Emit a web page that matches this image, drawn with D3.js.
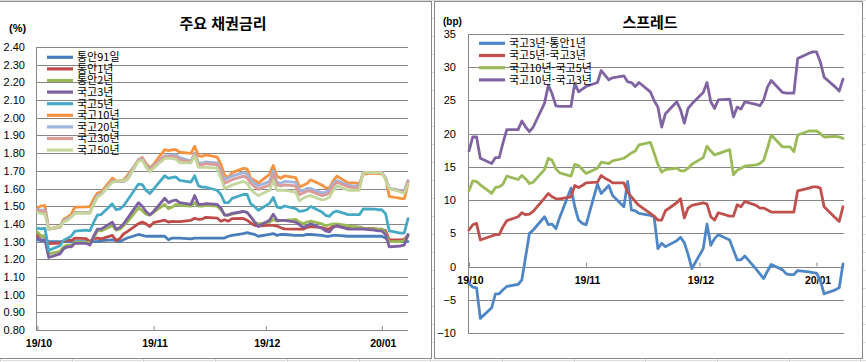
<!DOCTYPE html>
<html lang="ko">
<head>
<meta charset="UTF-8">
<title>주요 채권금리 / 스프레드</title>
<script src="https://d3js.org/d3.v7.min.js"></script>
<style>
  body { margin: 0; background: #fff; }
  svg { display: block; }
  text { font-family: "Liberation Sans", Arial, sans-serif; fill: #000; }
  .kr { font-family: "Noto Sans CJK KR", sans-serif; }
</style>
</head>
<body>
<svg id="chart" width="866" height="362"></svg>
<script>
// business days, 2019-10-01 .. 2020-01-08
var dates = [
  "2019-10-01","2019-10-02","2019-10-03","2019-10-04","2019-10-07","2019-10-08","2019-10-09","2019-10-10","2019-10-11",
  "2019-10-14","2019-10-15","2019-10-16","2019-10-17","2019-10-18","2019-10-21","2019-10-22","2019-10-23","2019-10-24",
  "2019-10-25","2019-10-28","2019-10-29","2019-10-30","2019-10-31",
  "2019-11-01","2019-11-04","2019-11-05","2019-11-06","2019-11-07","2019-11-08","2019-11-11","2019-11-12","2019-11-13",
  "2019-11-14","2019-11-15","2019-11-18","2019-11-19","2019-11-20","2019-11-21","2019-11-22","2019-11-25","2019-11-26",
  "2019-11-27","2019-11-28","2019-11-29",
  "2019-12-02","2019-12-03","2019-12-04","2019-12-05","2019-12-06","2019-12-09","2019-12-10","2019-12-11","2019-12-12",
  "2019-12-13","2019-12-16","2019-12-17","2019-12-18","2019-12-19","2019-12-20","2019-12-23","2019-12-24","2019-12-25",
  "2019-12-26","2019-12-27","2019-12-30","2019-12-31",
  "2020-01-01","2020-01-02","2020-01-03","2020-01-06","2020-01-07","2020-01-08"
];

// 주요 채권금리 (%)
var msb91 = [1.31,1.305,1.305,1.30,1.30,1.30,1.30,1.30,1.30,1.30,1.30,1.30,1.30,1.305,1.31,1.305,1.30,1.31,1.32,1.34,1.335,1.33,1.33,
  1.33,1.33,1.31,1.32,1.32,1.32,1.315,1.32,1.32,1.32,1.32,1.32,1.32,1.32,1.33,1.335,1.345,1.35,1.345,1.34,1.33,
  1.34,1.345,1.335,1.34,1.34,1.335,1.335,1.335,1.34,1.34,1.335,1.33,1.33,1.335,1.335,1.33,1.33,1.33,1.33,1.33,1.33,1.33,
  1.33,1.32,1.30,1.30,1.30,1.30];
var msb1 = [1.335,1.33,1.33,1.288,1.292,1.301,1.311,1.305,1.320,1.317,1.300,1.315,1.320,1.315,1.335,1.307,1.316,1.343,1.356,1.402,1.410,1.400,1.385,
  1.407,1.421,1.410,1.414,1.413,1.413,1.420,1.432,1.425,1.427,1.437,1.433,1.415,1.423,1.415,1.430,1.431,1.421,1.404,1.392,1.388,
  1.393,1.391,1.388,1.378,1.372,1.370,1.370,1.370,1.380,1.384,1.379,1.371,1.373,1.387,1.387,1.375,1.381,1.382,1.382,1.376,1.373,1.369,
  1.370,1.361,1.311,1.310,1.312,1.336];
var msb2 = [1.355,1.33,1.33,1.23,1.245,1.27,1.28,1.28,1.295,1.295,1.295,1.32,1.36,1.36,1.39,1.365,1.37,1.39,1.41,1.49,1.475,1.455,1.45,
  1.465,1.51,1.485,1.495,1.51,1.505,1.50,1.52,1.50,1.50,1.505,1.50,1.48,1.45,1.45,1.455,1.47,1.465,1.44,1.41,1.40,
  1.41,1.425,1.415,1.42,1.42,1.425,1.41,1.40,1.41,1.415,1.40,1.39,1.395,1.40,1.40,1.39,1.385,1.385,1.38,1.375,1.37,1.37,
  1.37,1.35,1.30,1.30,1.305,1.33];
var ktb3 = [1.32,1.31,1.31,1.21,1.23,1.26,1.27,1.27,1.29,1.29,1.28,1.33,1.37,1.37,1.41,1.37,1.38,1.40,1.43,1.52,1.50,1.47,1.45,
  1.47,1.545,1.52,1.53,1.535,1.52,1.51,1.56,1.51,1.51,1.515,1.51,1.49,1.45,1.45,1.46,1.47,1.465,1.44,1.41,1.385,
  1.42,1.455,1.42,1.42,1.42,1.41,1.395,1.38,1.39,1.40,1.375,1.36,1.355,1.38,1.39,1.37,1.37,1.37,1.37,1.37,1.365,1.36,
  1.36,1.34,1.27,1.275,1.28,1.34];
var ktb5 = [1.375,1.373,1.375,1.250,1.276,1.308,1.318,1.330,1.359,1.365,1.361,1.408,1.449,1.453,1.513,1.480,1.485,1.502,1.532,1.625,1.622,1.589,1.572,
  1.596,1.672,1.657,1.663,1.665,1.646,1.636,1.672,1.615,1.608,1.607,1.590,1.566,1.520,1.520,1.544,1.566,1.567,1.513,1.498,1.477,
  1.516,1.549,1.495,1.490,1.501,1.486,1.471,1.473,1.480,1.498,1.467,1.448,1.443,1.465,1.472,1.452,1.452,1.452,1.452,1.484,1.483,1.480,
  1.480,1.458,1.360,1.348,1.348,1.430];
var ktb10 = [1.489,1.502,1.503,1.373,1.386,1.427,1.438,1.454,1.495,1.496,1.498,1.540,1.574,1.580,1.659,1.643,1.645,1.649,1.673,1.761,1.776,1.741,1.718,
  1.736,1.820,1.814,1.819,1.820,1.805,1.799,1.839,1.786,1.782,1.790,1.777,1.737,1.674,1.662,1.690,1.714,1.711,1.657,1.646,1.631,
  1.680,1.730,1.669,1.658,1.671,1.662,1.609,1.618,1.628,1.649,1.620,1.603,1.603,1.643,1.670,1.632,1.632,1.632,1.625,1.682,1.687,1.684,
  1.684,1.658,1.555,1.544,1.543,1.623];
var ktb20 = [1.48,1.478,1.478,1.37,1.38,1.42,1.43,1.44,1.465,1.465,1.465,1.52,1.56,1.57,1.645,1.64,1.64,1.64,1.66,1.765,1.77,1.735,1.71,
  1.73,1.785,1.785,1.79,1.79,1.775,1.755,1.80,1.745,1.745,1.75,1.745,1.70,1.65,1.66,1.67,1.69,1.68,1.65,1.63,1.615,
  1.64,1.70,1.635,1.63,1.64,1.635,1.585,1.59,1.60,1.60,1.575,1.58,1.59,1.63,1.645,1.62,1.615,1.615,1.615,1.69,1.69,1.69,
  1.69,1.66,1.60,1.59,1.585,1.645];
var ktb30 = [1.475,1.47,1.47,1.37,1.38,1.415,1.425,1.44,1.462,1.462,1.462,1.515,1.555,1.567,1.642,1.64,1.642,1.642,1.65,1.762,1.767,1.73,1.705,
  1.725,1.78,1.78,1.782,1.78,1.762,1.75,1.795,1.735,1.735,1.74,1.735,1.685,1.63,1.64,1.65,1.67,1.66,1.63,1.61,1.595,
  1.62,1.68,1.62,1.615,1.62,1.615,1.565,1.575,1.585,1.585,1.56,1.565,1.575,1.615,1.635,1.61,1.605,1.605,1.605,1.69,1.69,1.69,
  1.69,1.655,1.60,1.585,1.58,1.64];
var ktb50 = [1.465,1.458,1.455,1.37,1.385,1.41,1.42,1.44,1.46,1.46,1.46,1.51,1.55,1.565,1.635,1.64,1.645,1.645,1.65,1.755,1.76,1.72,1.695,
  1.715,1.77,1.77,1.77,1.765,1.745,1.745,1.785,1.72,1.72,1.72,1.715,1.66,1.60,1.61,1.62,1.64,1.63,1.595,1.575,1.56,
  1.59,1.645,1.59,1.59,1.59,1.58,1.53,1.545,1.555,1.56,1.535,1.54,1.55,1.59,1.615,1.59,1.59,1.59,1.59,1.69,1.69,1.69,
  1.69,1.65,1.60,1.58,1.575,1.625];

// 스프레드 (bp)
var sp3y1y = [-2.6,-3.1,-3.2,-7.8,-6.2,-4.1,-4.1,-3.5,-3.0,-2.7,-2.0,1.5,5.0,5.5,7.5,6.3,6.4,5.7,7.4,11.8,9.0,7.0,6.5,
  6.3,12.4,11.0,11.6,12.2,10.7,9.0,12.8,8.5,8.4,8.0,7.7,7.5,2.7,3.5,3.0,3.9,4.4,3.6,1.8,-0.3,
  2.7,6.4,3.2,4.2,4.8,4.0,2.5,1.0,1.0,1.6,-0.4,-1.1,-1.8,-0.7,0.3,-0.5,-1.1,-1.2,-1.2,-0.6,-0.8,-0.9,
  -1.0,-2.1,-4.1,-3.5,-3.2,0.4];
var sp5y3y = [5.5,6.3,6.5,4.0,4.6,4.8,4.8,6.0,6.9,7.5,8.1,7.8,7.9,8.3,10.3,11.0,10.5,10.2,10.2,10.5,12.2,11.9,12.2,
  12.6,12.7,13.7,13.3,13.0,12.6,12.6,11.2,10.5,9.8,9.2,8.0,7.6,7.0,7.0,8.4,9.6,10.2,7.3,8.8,9.2,
  9.6,9.4,7.5,7.0,8.1,7.6,7.6,9.3,9.0,9.8,9.2,8.8,8.8,8.5,8.2,8.2,8.2,8.2,8.2,11.4,11.8,12.0,
  12.0,11.8,9.0,7.3,6.8,9.0];
var sp10y5y = [11.4,12.9,12.8,12.3,11.0,11.9,12.0,12.4,13.6,13.1,13.7,13.2,12.5,12.7,14.6,16.3,16.0,14.7,14.1,13.6,15.4,15.2,14.6,
  14.0,14.8,15.7,15.6,15.5,15.9,16.3,16.7,17.1,17.4,18.3,18.7,17.1,15.4,14.2,14.6,14.8,14.4,14.4,14.8,15.4,
  16.4,18.1,17.4,16.8,17.0,17.6,13.8,14.5,14.8,15.1,15.3,15.5,16.0,17.8,19.8,18.0,18.0,18.0,17.3,19.8,20.4,20.4,
  20.4,20.0,19.5,19.6,19.5,19.3];
var sp10y3y = [17.4,19.5,19.5,16.3,15.5,16.4,16.4,18.6,20.6,20.6,21.9,21.0,20.3,21.0,24.6,27.3,26.0,24.2,24.1,24.1,27.6,26.3,26.7,
  27.1,27.7,29.5,28.8,28.1,28.4,28.7,27.8,27.7,27.1,27.7,26.3,25.0,24.0,21.0,23.0,24.8,23.6,21.6,23.8,24.5,
  26.2,27.7,24.8,23.8,25.1,25.2,22.5,24.0,23.7,24.8,24.4,24.2,25.1,27.0,28.0,26.2,26.1,26.1,26.1,31.3,32.1,32.3,
  32.3,30.8,28.5,27.0,26.4,28.2];

var rateNames = ["통안91일","통안1년","통안2년","국고3년","국고5년","국고10년","국고20년","국고30년","국고50년"];
var rateColors = ["#4a7ebb","#be4b48","#98b954","#7d60a0","#46aac5","#f69240","#9fb5dc","#d99a98","#c3d69b"];
var spreadNames = ["국고3년-통안1년","국고5년-국고3년","국고10년-국고5년","국고10년-국고3년"];
var spreadColors = ["#4f86c6","#c0504d","#9bbb59","#8064a2"];
var rateTicks = d3.range(0.8, 2.401, 0.1);
var spreadTicks = d3.range(-10, 35.1, 5);
var monthTicks = ["2019-10-01","2019-11-01","2019-12-01","2020-01-01"];

var parse = d3.timeParse("%Y-%m-%d");
var days = dates.map(parse);
var svg = d3.select("#chart");

// worksheet cell lines behind the two chart objects
var sheet = svg.append("g").attr("stroke", "#dadada").attr("shape-rendering", "crispEdges");
d3.range(0, 13).forEach(function(k) {
  var x = Math.round(71.7 * k) + 0.5;
  sheet.append("line").attr("x1", x).attr("x2", x).attr("y1", 0).attr("y2", 362);
});
d3.range(0, 21).forEach(function(k) {
  var y = 18 * k + 0.5;
  sheet.append("line").attr("x1", 0).attr("x2", 866).attr("y1", y).attr("y2", y);
});

function drawPanel(p) {
  var g = svg.append("g");
  g.append("rect").attr("x", p.box[0]).attr("y", 1.5).attr("width", p.box[1] - p.box[0]).attr("height", 357)
    .attr("fill", "#fff").attr("stroke", "#8a8a8a");

  var x = d3.scaleTime().domain([days[0], days[days.length - 1]]).range(p.xr);
  var y = d3.scaleLinear().domain(p.yd).range(p.yr);

  // gridlines
  g.append("g").attr("transform", "translate(" + p.left + ",0)")
    .call(d3.axisLeft(y).tickValues(p.ticks).tickSize(-(p.right - p.left)).tickFormat(""))
    .call(function(a) {
      a.select(".domain").remove();
      a.selectAll("line").attr("stroke", "#868686").attr("shape-rendering", "crispEdges");
    });
  // y labels
  g.append("g").attr("transform", "translate(" + p.left + ",0)")
    .call(d3.axisLeft(y).tickValues(p.ticks).tickSize(0).tickPadding(p.pad).tickFormat(p.fmt))
    .call(function(a) {
      a.select(".domain").remove();
      a.selectAll("text").attr("font-family", "Liberation Sans, Arial, sans-serif").attr("font-size", 11).attr("fill", "#000");
    });
  // vertical axis
  g.append("line").attr("x1", p.left + 0.5).attr("x2", p.left + 0.5).attr("y1", y(p.yd[1])).attr("y2", y(p.yd[0]))
    .attr("stroke", "#868686");
  // x axis labels and month ticks
  g.append("g").attr("transform", "translate(0," + y(p.xAt) + ")")
    .call(d3.axisBottom(x).tickValues(monthTicks.map(parse)).tickSize(-4).tickFormat(d3.timeFormat("%y/%m")))
    .call(function(a) {
      a.select(".domain").remove();
      a.selectAll("line").attr("stroke", "#868686");
      a.selectAll("text").attr("y", 17).attr("dy", 0).attr("x", 1)
        .attr("font-family", "Liberation Sans, Arial, sans-serif").attr("font-size", 10.5)
        .attr("font-weight", "bold").attr("fill", "#000");
    });

  // series
  var line = d3.line().x(function(d, i) { return x(days[i]); }).y(function(d) { return y(d); });
  p.series.forEach(function(s, i) {
    g.append("path").datum(s).attr("d", line).attr("fill", "none")
      .attr("stroke", p.colors[i]).attr("stroke-width", 2.8)
      .attr("stroke-linejoin", "round").attr("stroke-linecap", "round");
  });

  // legend
  p.names.forEach(function(n, i) {
    var ly = p.leg[2] + i * p.leg[3];
    g.append("line").attr("x1", p.leg[0]).attr("x2", p.leg[0] + 26).attr("y1", ly).attr("y2", ly)
      .attr("stroke", p.colors[i]).attr("stroke-width", 3.2);
    g.append("text").attr("class", "kr").attr("x", p.leg[1]).attr("y", ly).attr("dy", "0.36em")
      .attr("font-size", 11).text(n);
  });

  g.append("text").attr("class", "kr").attr("x", p.title[0]).attr("y", p.title[1])
    .attr("text-anchor", "middle").attr("font-size", 15).attr("font-weight", "bold").text(p.title[2]);
  g.append("text").attr("x", p.unit[0]).attr("y", p.unit[1]).attr("font-size", p.unit[3])
    .attr("font-weight", "bold").text(p.unit[2]);
}

drawPanel({
  box: [-1.5, 431.5], left: 36, right: 408, xr: [37.5, 408],
  yd: [0.8, 2.4], yr: [330, 47], ticks: rateTicks, fmt: d3.format(".2f"), pad: 11, xAt: 0.8,
  series: [msb91, msb1, msb2, ktb3, ktb5, ktb10, ktb20, ktb30, ktb50],
  names: rateNames, colors: rateColors, leg: [47, 77, 57.3, 11.6],
  title: [223, 29, "주요 채권금리"], unit: [9, 32, "(%)", 11]
});

drawPanel({
  box: [434.5, 862.5], left: 468, right: 844, xr: [469, 843],
  yd: [-10, 35], yr: [333, 34], ticks: spreadTicks, fmt: d3.format("d"), pad: 12, xAt: 0,
  series: [sp3y1y, sp5y3y, sp10y5y, sp10y3y],
  names: spreadNames, colors: spreadColors, leg: [479, 509, 43.3, 12.2],
  title: [650, 28, "스프레드"], unit: [443, 25, "(bp)", 10]
});
</script>
</body>
</html>
